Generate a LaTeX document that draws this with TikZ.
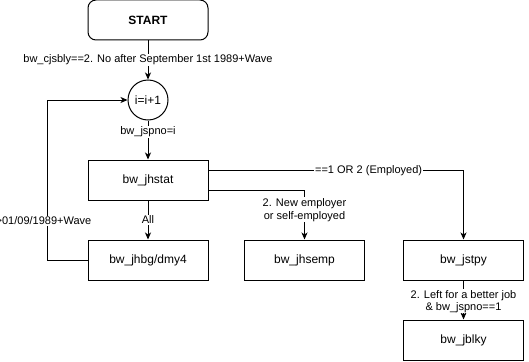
\documentclass[tikz,border=0pt]{standalone}
\usepackage{fontspec}
\setmainfont{Liberation Sans}
\usetikzlibrary{arrows.meta,calc}
\begin{document}
\begin{tikzpicture}[x=1pt,y=-1pt,
  box/.style={draw, line width=1pt, minimum width=120pt, minimum height=40pt,
    inner sep=0pt, font=\fontsize{12}{14}\selectfont},
  counter/.style={draw, circle, line width=1pt, minimum size=40pt, inner sep=0pt,
    font=\fontsize{12}{14}\selectfont},
  lbl/.style={fill=white, inner sep=1pt, align=center,
    font=\fontsize{11}{13}\selectfont},
  flow/.style={draw, line width=1pt, -{Stealth[length=7pt,width=6pt,inset=2pt]}}]
\useasboundingbox (0,0) rectangle (529,361);

% nodes
\node[box, rounded corners=8pt, font=\bfseries\fontsize{12}{14}\selectfont] (start) at (148,20) {START};
\node[counter] (inc) at (148,100) {i=i+1};
\node[box] (stat) at (148,180) {bw\_jhstat};
\node[box] (bg) at (148,260) {bw\_jhbg/dmy4};
\node[box] (semp) at (304.5,260) {bw\_jhsemp};
\node[box] (stpy) at (463.5,260) {bw\_jstpy};
\node[box] (blky) at (463.5,340) {bw\_jblky};

% connectors
\draw[flow] (start) -- (inc)
  node[lbl, pos=0.5] {bw\_cjsbly==2. No after September 1st 1989+Wave};
\draw[flow] (inc) -- (stat)
  node[lbl, pos=0.29] {bw\_jspno=i};
\draw[flow] (stat) -- (bg)
  node[lbl, pos=0.5] {All};
\draw[flow] ($(stat.east)+(0,10)$) -| (semp.north)
  node[lbl, pos=0.7] {2. New employer\\or self-employed};
\draw[flow] ($(stat.east)+(0,-9.5)$) -| (stpy.north)
  node[lbl, pos=0.314] {==1 OR 2 (Employed)};
\draw[flow] (stpy) -- (blky)
  node[lbl, pos=0.53, font=\fontsize{11}{12}\selectfont] {2. Left for a better job\\\& bw\_jspno==1};
\draw[flow] (bg.west) -- ++(-40,0) coordinate (loop) |- (inc.west);
\node[lbl, anchor=east] (back) at ($(loop)+(45,-39)$) {>01/09/1989+Wave};
\end{tikzpicture}
\end{document}
